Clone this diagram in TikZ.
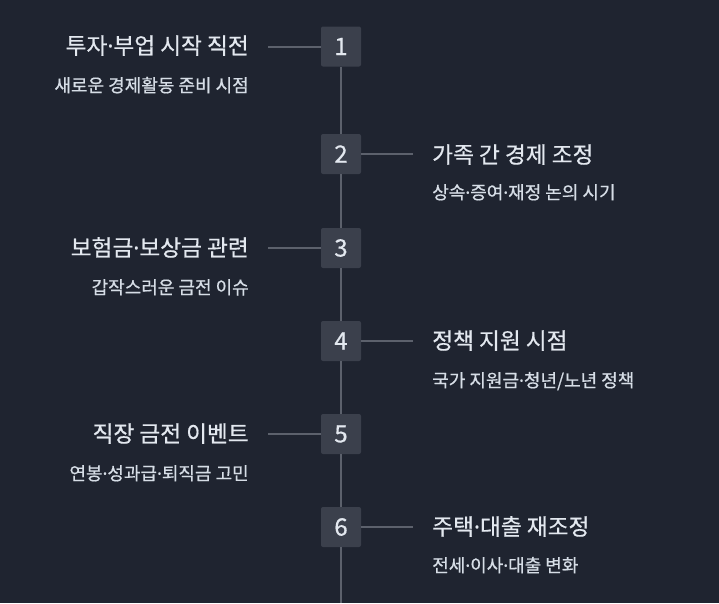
\documentclass[tikz,border=0pt]{standalone}
\usepackage{fontspec}
\setmainfont{Noto Sans CJK KR}
\newfontfamily\krmid{Noto Sans CJK KR}[FakeBold=0.6]
\newfontfamily\dotfont{Noto Sans}[FakeBold=0.6]
\newcommand{\mdot}{{\dotfont ·}}
\usepackage{tikz}
\usetikzlibrary{positioning}
\definecolor{bg}{HTML}{1F2430}
\definecolor{boxc}{HTML}{3B404C}
\definecolor{linec}{HTML}{5C616C}
\definecolor{ttlc}{HTML}{E3E8EF}
\definecolor{subc}{HTML}{D6DDE6}

\begin{document}
\begin{tikzpicture}[x=0.75pt,y=-0.75pt,
  stepno/.style={fill=boxc, rounded corners=1.5pt, minimum width=30pt, minimum height=30pt,
    inner sep=0pt, text=ttlc, font=\krmid\fontsize{18}{18}\selectfont},
  ttl/.style={inner sep=0pt, text=ttlc, font=\krmid\fontsize{17}{20}\selectfont},
  sub/.style={inner sep=0pt, text=subc, font=\krmid\fontsize{13.5}{16}\selectfont},
  link/.style={draw=linec, line width=1.5pt}]
  \fill[bg] (0,0) rectangle (719,603);
  % numbered steps on the spine
  \node[stepno] (n1) at (341,46.5) {1};
  \node[stepno] (n2) at (341,154) {2};
  \node[stepno] (n3) at (341,248) {3};
  \node[stepno] (n4) at (341,341) {4};
  \node[stepno] (n5) at (341,434) {5};
  \node[stepno] (n6) at (341,527) {6};
  \coordinate (bottom) at (341,603);
  \draw[link] (n1) -- (n2) -- (n3) -- (n4) -- (n5) -- (n6) -- (bottom);
  % left side
  \node[ttl, anchor=base east] (t1) at (249,54) {투자\mdot 부업 시작 직전};
  \node[sub, anchor=base east] (s1) at (249,92) {새로운 경제활동 준비 시점};
  \coordinate (c1) at (268,46.5);
  \draw[link] (c1) -- (n1);
  \node[ttl, anchor=base east] (t3) at (249,256) {보험금\mdot 보상금 관련};
  \node[sub, anchor=base east] (s3) at (249,294) {갑작스러운 금전 이슈};
  \coordinate (c3) at (268,248);
  \draw[link] (c3) -- (n3);
  \node[ttl, anchor=base east] (t5) at (249,442) {직장 금전 이벤트};
  \node[sub, anchor=base east] (s5) at (249,480) {연봉\mdot 성과급\mdot 퇴직금 고민};
  \coordinate (c5) at (268,434);
  \draw[link] (c5) -- (n5);
  % right side
  \node[ttl, anchor=base west] (t2) at (432,163) {가족 간 경제 조정};
  \node[sub, anchor=base west] (s2) at (432,199) {상속\mdot 증여\mdot 재정 논의 시기};
  \coordinate (c2) at (413,154);
  \draw[link] (n2) -- (c2);
  \node[ttl, anchor=base west] (t4) at (432,349) {정책 지원 시점};
  \node[sub, anchor=base west] (s4) at (432,387) {국가 지원금\mdot 청년/노년 정책};
  \coordinate (c4) at (413,341);
  \draw[link] (n4) -- (c4);
  \node[ttl, anchor=base west] (t6) at (432,535) {주택\mdot 대출 재조정};
  \node[sub, anchor=base west] (s6) at (432,572) {전세\mdot 이사\mdot 대출 변화};
  \coordinate (c6) at (413,527);
  \draw[link] (n6) -- (c6);
\end{tikzpicture}
\end{document}
